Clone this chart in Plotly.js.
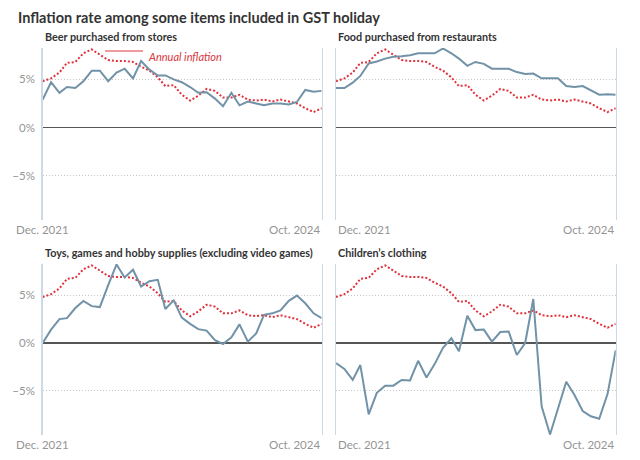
<!DOCTYPE html>
<html>
<head>
<meta charset="utf-8">
<script src="https://cdn.plot.ly/plotly-3.0.1.min.js"></script>
<style>html,body{margin:0;padding:0;background:#fff}#chart{width:640px;height:460px}</style>
</head>
<body>
<div id="chart"></div>
<script>
const months = ["2021-12","2022-01","2022-02","2022-03","2022-04","2022-05","2022-06","2022-07","2022-08","2022-09","2022-10","2022-11",
"2022-12","2023-01","2023-02","2023-03","2023-04","2023-05","2023-06","2023-07","2023-08","2023-09","2023-10","2023-11",
"2023-12","2024-01","2024-02","2024-03","2024-04","2024-05","2024-06","2024-07","2024-08","2024-09","2024-10"];

const annualInflation = [4.8,5.1,5.7,6.7,6.8,7.7,8.1,7.6,7.0,6.9,6.9,6.8,6.3,5.9,5.2,4.3,4.4,3.4,2.8,3.3,4.0,3.8,3.1,3.1,3.4,2.9,2.8,2.9,2.7,2.9,2.7,2.5,2.0,1.6,2.0];

const beer = [2.9,4.7,3.6,4.2,4.1,4.8,5.9,5.9,4.8,5.7,6.1,5.1,6.9,6.0,5.4,5.4,5.0,4.7,4.2,3.6,3.65,3.0,2.2,3.6,2.3,2.7,2.5,2.3,2.5,2.5,2.4,2.65,3.9,3.7,3.8];
const restaurants = [4.1,4.1,4.65,5.35,6.65,6.85,7.15,7.35,7.4,7.5,7.7,7.7,7.7,8.2,7.7,7.15,6.4,6.8,6.6,6.1,6.1,6.1,5.75,5.55,5.6,5.1,5.1,5.1,4.3,4.2,4.3,3.85,3.4,3.45,3.4];
const toys = [0.0,1.4,2.5,2.6,3.65,4.4,3.85,3.75,6.05,8.2,6.85,7.65,5.9,6.45,6.6,3.55,4.45,2.65,2.0,1.45,1.3,0.3,-0.1,0.6,1.95,0.15,1.0,2.95,3.1,3.4,4.4,4.95,4.15,3.1,2.6];
const clothing = [-2.1,-2.7,-3.85,-2.3,-7.45,-5.2,-4.45,-4.45,-3.85,-3.9,-1.85,-3.6,-2.2,-0.5,0.5,-0.85,2.85,1.35,1.4,0.15,1.15,1.2,-1.25,0.0,4.6,-6.6,-9.55,-6.85,-4.05,-5.4,-7.1,-7.65,-7.9,-5.3,-0.75];

const panelTitles = ["Beer purchased from stores","Food purchased from restaurants","Toys, games and hobby supplies (excluding video games)","Children\u2019s clothing"];
const panelSeries = [beer, restaurants, toys, clothing];
const yTickVals = [-5, 0, 5];
const yTickText = ["\u22125%", "0%", "5%"];
const xLabels = ["Dec. 2021", "Oct. 2024"];
const legendLabel = "Annual inflation";
const chartTitle = "Inflation rate among some items included in GST holiday";

const dates = months.map(m => m + "-01");
const FONT = "Lato, 'Open Sans', sans-serif";
const ITEM_COLOR = "#7192a7";
const RED = "#e0323c";
const TICK_COLOR = "#959595";

const xDomains = [[42.7/640, 321.7/640],[336/640, 615.7/640]];
const yDomains = [[(460-220)/460,(460-48)/460],[(460-435)/460,(460-264)/460]];

const traces = [];
const layout = {
  width: 640, height: 460,
  margin: {l:0, r:0, t:0, b:0},
  paper_bgcolor: "#fff", plot_bgcolor: "#fff",
  showlegend: false,
  font: {family: FONT, color: TICK_COLOR, size: 11},
  annotations: [], shapes: []
};

layout.annotations.push({
  text: "<b>" + chartTitle + "</b>", xref: "paper", yref: "paper",
  x: 16/640, y: (460-17)/460, xanchor: "left", yanchor: "middle", showarrow: false,
  font: {family: FONT, size: 14.5, color: "#333"}
});

for (let p = 0; p < 4; p++) {
  const col = p % 2, row = Math.floor(p / 2);
  const n = p + 1;
  const xa = n === 1 ? "x" : "x" + n;
  const ya = n === 1 ? "y" : "y" + n;
  const xk = n === 1 ? "xaxis" : "xaxis" + n;
  const yk = n === 1 ? "yaxis" : "yaxis" + n;
  layout[xk] = {
    domain: xDomains[col], anchor: ya, type: "date",
    range: [dates[0], dates[dates.length-1]],
    showgrid: false, zeroline: false, showline: false, showticklabels: false, ticks: "",
    fixedrange: true
  };
  layout[yk] = {
    domain: yDomains[row], anchor: xa, range: [-9.6, 8.25],
    tickvals: yTickVals, ticktext: yTickText, showticklabels: col === 0,
    ticks: "", showgrid: true, gridcolor: "#c8c8c8", griddash: "1px,2px", gridwidth: 1,
    zeroline: true, zerolinecolor: "#555", zerolinewidth: 1.5,
    showline: true, linecolor: "#cbdae4", linewidth: 1.5, mirror: true,
    tickfont: {family: FONT, size: 11.5, color: TICK_COLOR}, ticklabelstandoff: 4,
    fixedrange: true
  };
  traces.push({
    x: dates, y: annualInflation, xaxis: xa, yaxis: ya, type: "scatter", mode: "lines",
    line: {color: RED, width: 2, dash: "2px,2px"}, hoverinfo: "skip"
  });
  traces.push({
    x: dates, y: panelSeries[p], xaxis: xa, yaxis: ya, type: "scatter", mode: "lines",
    line: {color: ITEM_COLOR, width: 2}, hoverinfo: "skip"
  });
  layout.annotations.push({
    text: "<b>" + panelTitles[p] + "</b>", xref: "paper", yref: "paper",
    x: xDomains[col][0], y: yDomains[row][1], xanchor: "left", yanchor: "bottom", yshift: 3,
    showarrow: false, font: {family: FONT, size: 10.8, color: "#333"}
  });
  layout.annotations.push({
    text: xLabels[0], xref: xa, yref: ya + " domain", x: dates[0], y: 0,
    xanchor: col === 0 ? "center" : "left", yanchor: "top", yshift: -1, showarrow: false,
    font: {family: FONT, size: 11.5, color: TICK_COLOR}
  });
  layout.annotations.push({
    text: xLabels[1], xref: xa, yref: ya + " domain", x: dates[dates.length-1], y: 0,
    xanchor: "right", yanchor: "top", yshift: -1, showarrow: false,
    font: {family: FONT, size: 11.5, color: TICK_COLOR}
  });
}

layout.shapes.push({
  type: "line", xref: "paper", yref: "paper",
  x0: 105/640, x1: 143/640, y0: (460-51)/460, y1: (460-51)/460,
  line: {color: RED, width: 1}
});
layout.annotations.push({
  text: "<i>" + legendLabel + "</i>", xref: "paper", yref: "paper",
  x: 146/640, y: (460-57)/460, xanchor: "left", yanchor: "middle", showarrow: false,
  font: {family: FONT, size: 11, color: "#d9363e"}
});

Plotly.newPlot("chart", traces, layout, {displayModeBar: false, staticPlot: true});
</script>
</body>
</html>
